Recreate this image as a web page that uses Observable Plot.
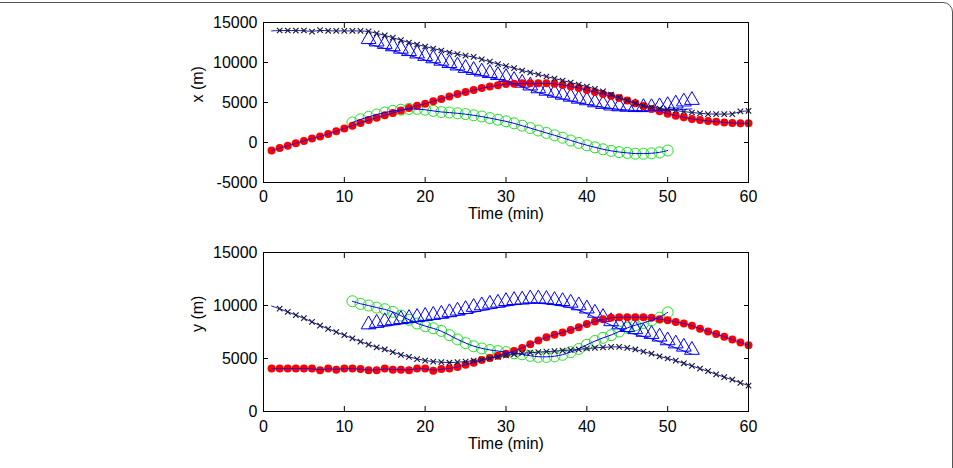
<!DOCTYPE html>
<html><head><meta charset="utf-8">
<script src="https://cdn.jsdelivr.net/npm/d3@7"></script>
<script src="https://cdn.jsdelivr.net/npm/@observablehq/plot@0.6"></script>
<style>
html,body{margin:0;padding:0;background:#fff;overflow:hidden;width:953px;height:468px}
#wrap{position:relative;width:953px;height:468px}
#border{position:absolute;left:-30px;top:2px;width:983px;height:520px;box-sizing:border-box;border:1.5px solid #555;border-radius:10px}
.p{position:absolute;left:0}
</style></head><body>
<div id="wrap"><div id="border"></div><div id="top" class="p" style="top:0"></div><div id="bot" class="p" style="top:234px"></div></div>
<script>
// ---- tick labels ----
const timeTicks = [0, 10, 20, 30, 40, 50, 60];
const xTicks = [-5000, 0, 5000, 10000, 15000];
const yTicks = [0, 5000, 10000, 15000];
const xLabel = "x (m)";
const yLabel = "y (m)";
const timeLabel = "Time (min)";

// ---- times (min) ----
const tBlack = d3.range(1, 61);
const tRed = d3.range(1, 61);
const tTri = d3.range(13, 54);
const tGreen = d3.range(11, 51);

// ---- top panel: x (m) ----
const xBlack = [13950,14000,14000,13980,14000,13850,14050,13950,13950,13950,13950,13950,13900,13650,13400,13100,12800,12500,12250,12000,
  11750,11500,11250,11050,10850,10700,10400,10100,9800,9550,9300,9000,8750,8500,8250,8000,7750,7500,7250,7000,
  6700,6400,6000,5650,5250,4900,4600,4400,4250,4150,4000,3850,3750,3650,3550,3550,3550,3550,3900,3950];
const xRed = [-1000,-700,-400,-100,200,500,750,1050,1400,1750,2100,2450,2800,3100,3400,3700,4000,4300,4600,4850,
  5150,5450,5750,6050,6300,6550,6800,7000,7150,7300,7350,7400,7400,7400,7400,7350,7200,7000,6800,6550,
  6300,6050,5800,5550,5250,4900,4550,4200,3900,3600,3350,3150,2950,2800,2700,2600,2500,2450,2400,2400];
const xTri = [12900,12600,12300,12000,11700,11400,11100,10800,10500,10200,9900,9600,9300,9050,8850,8650,8400,8150,7800,7450,
  7100,6750,6450,6200,5950,5700,5450,5250,5000,4800,4600,4500,4450,4400,4400,4400,4500,4650,4850,5100,5300];
const tTriLineX = [13, 18, 23, 26, 30, 34, 38, 42, 46, 50, 53];
const xTriLine = [12300, 10900, 9400, 8600, 7650, 6250, 5200, 4400, 4000, 4050, 4200];
const xGreen = [2500,2900,3200,3500,3750,3950,4100,4200,4200,4100,3950,3800,3750,3650,3550,3400,3250,3050,2850,2650,
  2400,2100,1800,1500,1200,900,600,250,-50,-350,-600,-850,-1050,-1200,-1300,-1400,-1400,-1350,-1250,-1000];

// ---- bottom panel: y (m) ----
const yBlack = [9950,9700,9400,9100,8800,8450,8100,7800,7500,7200,6900,6600,6300,6050,5850,5600,5350,5150,4950,4800,
  4700,4650,4600,4650,4700,4800,4900,5000,5150,5300,5400,5500,5550,5600,5650,5700,5750,5800,5850,5950,
  6000,6050,6100,6100,6000,5850,5650,5450,5200,5000,4800,4550,4300,4050,3800,3500,3250,3000,2700,2450];
const yRed = [4050,4050,4050,4050,4050,4050,3900,4050,3950,4050,4050,4000,3900,3900,4050,3950,3950,3900,4050,4050,
  3850,4000,4050,4200,4400,4600,4850,5050,5250,5450,5700,6000,6350,6700,7000,7250,7450,7700,7950,8250,
  8500,8700,8850,8900,8900,8900,8900,8850,8700,8600,8450,8300,8100,7800,7550,7300,7050,6800,6500,6250];
const yTri = [8200,8350,8500,8600,8700,8800,8900,9000,9100,9200,9350,9500,9650,9850,10000,10150,10250,10400,10500,10550,
  10650,10650,10600,10500,10400,10250,10000,9700,9300,8900,8500,8200,7950,7750,7500,7300,7050,6700,6400,6100,5800];
const tTriLineY = [13, 17, 21, 25, 29, 33, 36, 39, 42, 45, 48, 51, 53];
const yTriLine = [7800, 8250, 8650, 9200, 9800, 10200, 10050, 9550, 8500, 7500, 6850, 6000, 5400];
const yGreen = [10400,10150,10000,9800,9650,9400,9050,8650,8300,8050,7850,7600,7200,6800,6450,6150,5950,5800,5700,5600,
  5500,5400,5250,5150,5150,5200,5350,5600,5900,6300,6650,6950,7200,7550,7900,8150,8350,8600,8850,9350];

const zip = (ts, vs) => ts.map((t, i) => ({t, v: vs[i]}));

const BLUE = "#0000ff", RED = "#ff0000", GREEN = "#22e022", BLACK = "#14142e";
const W = 953, H = 234, ML = 263, MR = 205, TICK = 5;
const fmt = d => String(d);
const none = () => "";

function panel(s, opts) {
  const black = zip(tBlack, s.black), red = zip(tRed, s.red), tri = zip(tTri, s.tri),
        triLine = zip(s.triLineT, s.triLine), green = zip(tGreen, s.green);
  return Plot.plot({
    width: W, height: H,
    marginLeft: ML, marginRight: MR, marginTop: opts.mt, marginBottom: opts.mb,
    style: {fontFamily: "'Liberation Sans', Arial, sans-serif", fontSize: "16px", color: "#000", background: "transparent"},
    x: {domain: [0, 60], label: null},
    y: {domain: opts.domain, label: null},
    marks: [
      Plot.dot(green, {x: "t", y: "v", r: 5.5, stroke: GREEN, strokeWidth: 1, fill: "none"}),
      Plot.dot(tri, {x: "t", y: "v", symbol: "triangle", r: 5.5, stroke: BLUE, strokeWidth: 1, fill: "none"}),
      Plot.dot(red, {x: "t", y: "v", r: 4, fill: RED, stroke: "none"}),
      Plot.dot(black.filter(d => d.t >= 2), {x: "t", y: "v", symbol: "times", r: 2.6, stroke: BLACK, strokeWidth: 1.1}),
      Plot.line(green, {x: "t", y: "v", stroke: BLUE, strokeWidth: 1, curve: "basis"}),
      Plot.line(red, {x: "t", y: "v", stroke: BLUE, strokeWidth: 0.8, curve: "basis"}),
      Plot.line(triLine, {x: "t", y: "v", stroke: BLUE, strokeWidth: 1, curve: "catmull-rom"}),
      Plot.line(black, {x: "t", y: "v", stroke: "#1a1a8a", strokeWidth: 1, curve: "basis"}),
      Plot.frame({stroke: "#000", strokeWidth: 1}),
      // inward ticks on all four sides (outward ticks shifted inside the frame)
      Plot.axisX({anchor: "bottom", ticks: timeTicks, tickSize: TICK, dy: -TICK, tickFormat: none, label: null, stroke: "#000"}),
      Plot.axisX({anchor: "top", ticks: timeTicks, tickSize: TICK, dy: TICK, tickFormat: none, label: null, stroke: "#000"}),
      Plot.axisY({anchor: "left", ticks: opts.ticks, tickSize: TICK, dx: TICK, tickFormat: none, label: null, stroke: "#000"}),
      Plot.axisY({anchor: "right", ticks: opts.ticks, tickSize: TICK, dx: -TICK, tickFormat: none, label: null, stroke: "#000"}),
      // tick labels
      Plot.axisX({anchor: "bottom", ticks: timeTicks, tickSize: 0, tickPadding: opts.xpad, tickFormat: fmt, label: null, fontSize: 16}),
      Plot.axisY({anchor: "left", ticks: opts.ticks, tickSize: 0, tickPadding: 6, tickFormat: fmt, label: null, fontSize: 16}),
      Plot.text([opts.ylabel], {frameAnchor: "left", text: d => d, rotate: -90, dx: -66, fontSize: 16}),
      Plot.text([timeLabel], {frameAnchor: "bottom", text: d => d, dy: opts.tdy, fontSize: 16})
    ]
  });
}

document.getElementById("top").append(panel(
  {black: xBlack, red: xRed, tri: xTri, triLineT: tTriLineX, triLine: xTriLine, green: xGreen},
  {mt: 22, mb: 52, domain: [-5000, 15000], ticks: xTicks, ylabel: xLabel, xpad: 8, tdy: 36}));
document.getElementById("bot").append(panel(
  {black: yBlack, red: yRed, tri: yTri, triLineT: tTriLineY, triLine: yTriLine, green: yGreen},
  {mt: 18, mb: 57, domain: [0, 15000], ticks: yTicks, ylabel: yLabel, xpad: 9, tdy: 37}));
</script>
</body></html>
